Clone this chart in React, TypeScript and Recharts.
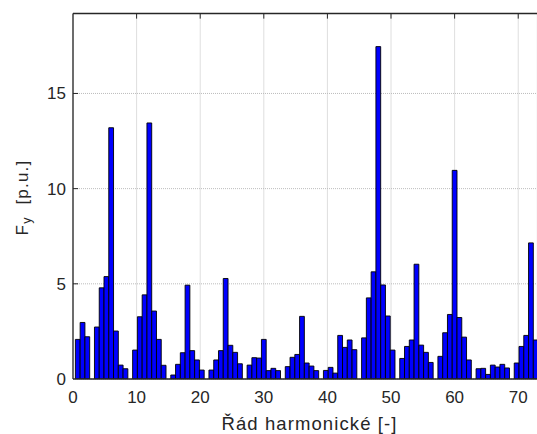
import React from 'react';
import { BarChart, Bar, XAxis, YAxis, CartesianGrid, ReferenceLine } from 'recharts';

const harmonicOrder: number[] = [
  0.75, 1.5, 2.25, 3, 3.75, 4.5, 5.25, 6,
  6.75, 7.5, 8.25, 9, 9.75, 10.5, 11.25, 12,
  12.75, 13.5, 14.25, 15, 15.75, 16.5, 17.25, 18,
  18.75, 19.5, 20.25, 21, 21.75, 22.5, 23.25, 24,
  24.75, 25.5, 26.25, 27, 27.75, 28.5, 29.25, 30,
  30.75, 31.5, 32.25, 33, 33.75, 34.5, 35.25, 36,
  36.75, 37.5, 38.25, 39, 39.75, 40.5, 41.25, 42,
  42.75, 43.5, 44.25, 45, 45.75, 46.5, 47.25, 48,
  48.75, 49.5, 50.25, 51, 51.75, 52.5, 53.25, 54,
  54.75, 55.5, 56.25, 57, 57.75, 58.5, 59.25, 60,
  60.75, 61.5, 62.25, 63, 63.75, 64.5, 65.25, 66,
  66.75, 67.5, 68.25, 69, 69.75, 70.5, 71.25, 72,
  72.75,
];

const forceFy: number[] = [
  2.08, 2.97, 2.22, 0, 2.73, 4.79, 5.38, 13.2,
  2.52, 0.73, 0.54, 0, 1.52, 3.27, 4.42, 13.45,
  3.57, 2.08, 0.72, 0, 0.21, 0.77, 1.38, 4.93,
  1.49, 1.0, 0.47, 0, 0.47, 1.0, 1.49, 5.28,
  1.77, 1.4, 0.8, 0, 0.73, 1.12, 1.1, 2.08,
  0.44, 0.56, 0.44, 0, 0.65, 1.14, 1.29, 3.29,
  0.84, 0.68, 0.44, 0, 0.45, 0.61, 0.31, 2.29,
  1.66, 2.05, 1.54, 0, 2.16, 4.26, 5.63, 17.46,
  4.94, 3.31, 1.52, 0, 1.08, 1.71, 2.05, 6.03,
  1.78, 1.4, 0.87, 0, 1.19, 2.43, 3.39, 10.96,
  3.23, 2.2, 1.0, 0, 0.54, 0.56, 0.24, 0.73,
  0.63, 0.77, 0.58, 0, 0.84, 1.71, 2.29, 7.15,
  2.05,
];

const xTicks: number[] = [0, 10, 20, 30, 40, 50, 60, 70];
const yTicks: number[] = [0, 5, 10, 15];
const X_MAX = 73;
const Y_MAX = 19.2;

const xLabel = 'Řád harmonické [-]';

const data = harmonicOrder.map((x, i) => ({ x, fy: forceFy[i] }));

const FONT = '"Liberation Sans", Arial, Helvetica, sans-serif';
const AXIS_COLOR = '#262626';

export default function App() {
  return (
    <div
      style={{
        position: 'fixed',
        left: 0,
        top: 0,
        width: 537,
        height: 434,
        overflow: 'hidden',
        background: '#ffffff',
      }}
    >
      <BarChart
        width={560}
        height={434}
        data={data}
        margin={{ top: 13.5, right: 22.7, bottom: 0, left: 0 }}
        barGap={0}
        barCategoryGap={0}
      >
        <CartesianGrid stroke="#bdbdbd" strokeDasharray="1 1" />
        <XAxis
          type="number"
          dataKey="x"
          domain={[0, X_MAX]}
          ticks={xTicks}
          interval={0}
          allowDataOverflow
          height={55}
          tickLine={false}
          tickSize={0}
          tickMargin={12}
          axisLine={{ stroke: AXIS_COLOR, strokeWidth: 1.3 }}
          tick={{ fill: AXIS_COLOR, fontSize: 17, fontFamily: FONT }}
        />
        <YAxis
          type="number"
          domain={[0, Y_MAX]}
          ticks={yTicks}
          interval={0}
          allowDataOverflow
          width={73}
          tickLine={false}
          tickSize={0}
          tickMargin={7}
          axisLine={{ stroke: AXIS_COLOR, strokeWidth: 1.3 }}
          tick={{ fill: AXIS_COLOR, fontSize: 17, fontFamily: FONT }}
        />
        <ReferenceLine y={Y_MAX} stroke={AXIS_COLOR} strokeWidth={1.3} ifOverflow="visible" />
        {yTicks.filter((v) => v > 0).map((v) => (
          <ReferenceLine
            key={'yt' + v}
            segment={[{ x: 0, y: v }, { x: 0.8, y: v }]}
            stroke={AXIS_COLOR}
            strokeWidth={1}
            ifOverflow="visible"
          />
        ))}
        {xTicks.filter((v) => v > 0).map((v) => (
          <ReferenceLine
            key={'xt' + v}
            segment={[{ x: v, y: Y_MAX }, { x: v, y: Y_MAX - 0.27 }]}
            stroke={AXIS_COLOR}
            strokeWidth={1}
            ifOverflow="visible"
          />
        ))}
        <Bar
          dataKey="fy"
          fill="#0000ff"
          stroke="#000000"
          strokeWidth={0.9}
          barSize={4.77}
          isAnimationActive={false}
        />
      </BarChart>
      <svg
        width={537}
        height={434}
        style={{ position: 'absolute', left: 0, top: 0, pointerEvents: 'none' }}
      >
        <text
          x={309.5}
          y={430}
          textAnchor="middle"
          fontSize={18.5}
          letterSpacing={1.1}
          fontFamily={FONT}
          fill={AXIS_COLOR}
        >
          {xLabel}
        </text>
        <text
          x={0}
          y={0}
          transform="translate(27.5,197.5) rotate(-90)"
          textAnchor="middle"
          fontSize={17}
          letterSpacing={1.2}
          fontFamily={FONT}
          fill={AXIS_COLOR}
          style={{ whiteSpace: 'pre' }}
        >
          <tspan>F</tspan>
          <tspan fontSize={12.5} dy={3.5}>y</tspan>
          <tspan dy={-3.5}>{'\u00a0\u00a0[p.u.]'}</tspan>
        </text>
      </svg>
    </div>
  );
}
